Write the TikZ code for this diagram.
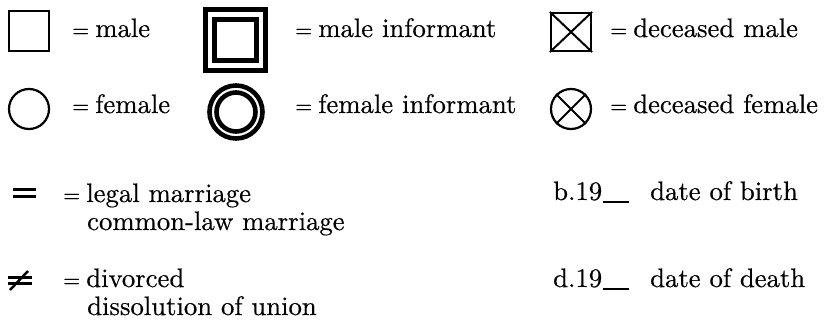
\documentclass[tikz,border=0pt]{standalone}
\usepackage{fontspec}
\setmainfont{lmroman10-regular}[Extension=.otf, FakeBold=0.4]
\newcommand{\eqsign}{{\fontsize{22}{22}\selectfont=}\hspace{6pt}}
\newcommand{\blank}{\hspace{1pt}\rule[-3pt]{26pt}{1.6pt}}
\begin{document}
\begin{tikzpicture}[x=1pt,y=-1pt,
  txt/.style={anchor=base west, inner sep=0pt, font=\fontsize{26.7}{30}\selectfont},
  thinsym/.style={draw, line width=2.2pt, inner sep=0pt},
  thicksym/.style={draw, line width=4.6pt, inner sep=0pt},
  bar/.style={line width=3pt}]
\useasboundingbox (0,0) rectangle (836,326);
% row 1
\node[thinsym, rectangle, minimum width=40, minimum height=40] (male) at (29,31) {};
\node[thicksym, rectangle, minimum size=60.5] (mi1) at (235.5,40) {};
\node[thicksym, rectangle, minimum size=41.5] (mi2) at (235.5,40) {};
\node[thinsym, rectangle, minimum width=40, minimum height=38] (dm) at (571,32) {};
\draw[line width=2pt] (dm.north west) -- (dm.south east) (dm.north east) -- (dm.south west);
\node[txt] (tmale) at (72,37) {\eqsign male};
\node[txt] (tmi) at (295,37) {\eqsign male informant};
\node[txt] (tdm) at (610,37) {\eqsign deceased male};
% row 2
\node[thinsym, circle, minimum size=40] (female) at (29,109) {};
\node[thicksym, circle, minimum size=53] (fi1) at (236,112) {};
\node[thicksym, circle, minimum size=39] (fi2) at (236,112) {};
\node[thinsym, circle, minimum size=40] (df) at (571,109) {};
\draw[line width=2pt] (df.45) -- (df.225) (df.135) -- (df.315);
\node[txt] (tfemale) at (72,113) {\eqsign female};
\node[txt] (tfi) at (295,113) {\eqsign female informant};
\node[txt] (tdf) at (610,113) {\eqsign deceased female};
% row 3
\coordinate (m1) at (13,189.5); \coordinate (m2) at (36,189.5);
\coordinate (m3) at (13,196.5); \coordinate (m4) at (36,196.5);
\draw[bar] (m1) -- (m2) (m3) -- (m4);
\node[txt] (tlegal) at (63,202) {\eqsign legal marriage};
\node[txt] (tcommon) at (87,230) {common-law marriage};
\node[txt] (tb) at (553,200) {b.19\blank};
\node[txt] (tbirth) at (650,200) {date of birth};
% row 4
\coordinate (d1) at (8,277); \coordinate (d2) at (32,277);
\coordinate (d3) at (8,283); \coordinate (d4) at (32,283);
\coordinate (d5) at (10,290); \coordinate (d6) at (28,271);
\draw[bar] (d1) -- (d2) (d3) -- (d4);
\draw[line width=2.5pt] (d5) -- (d6);
\node[txt] (tdiv) at (63,287) {\eqsign divorced};
\node[txt] (tdiss) at (87,315) {dissolution of union};
\node[txt] (td) at (553,287) {d.19\blank};
\node[txt] (tdeath) at (650,287) {date of death};
\end{tikzpicture}
\end{document}
